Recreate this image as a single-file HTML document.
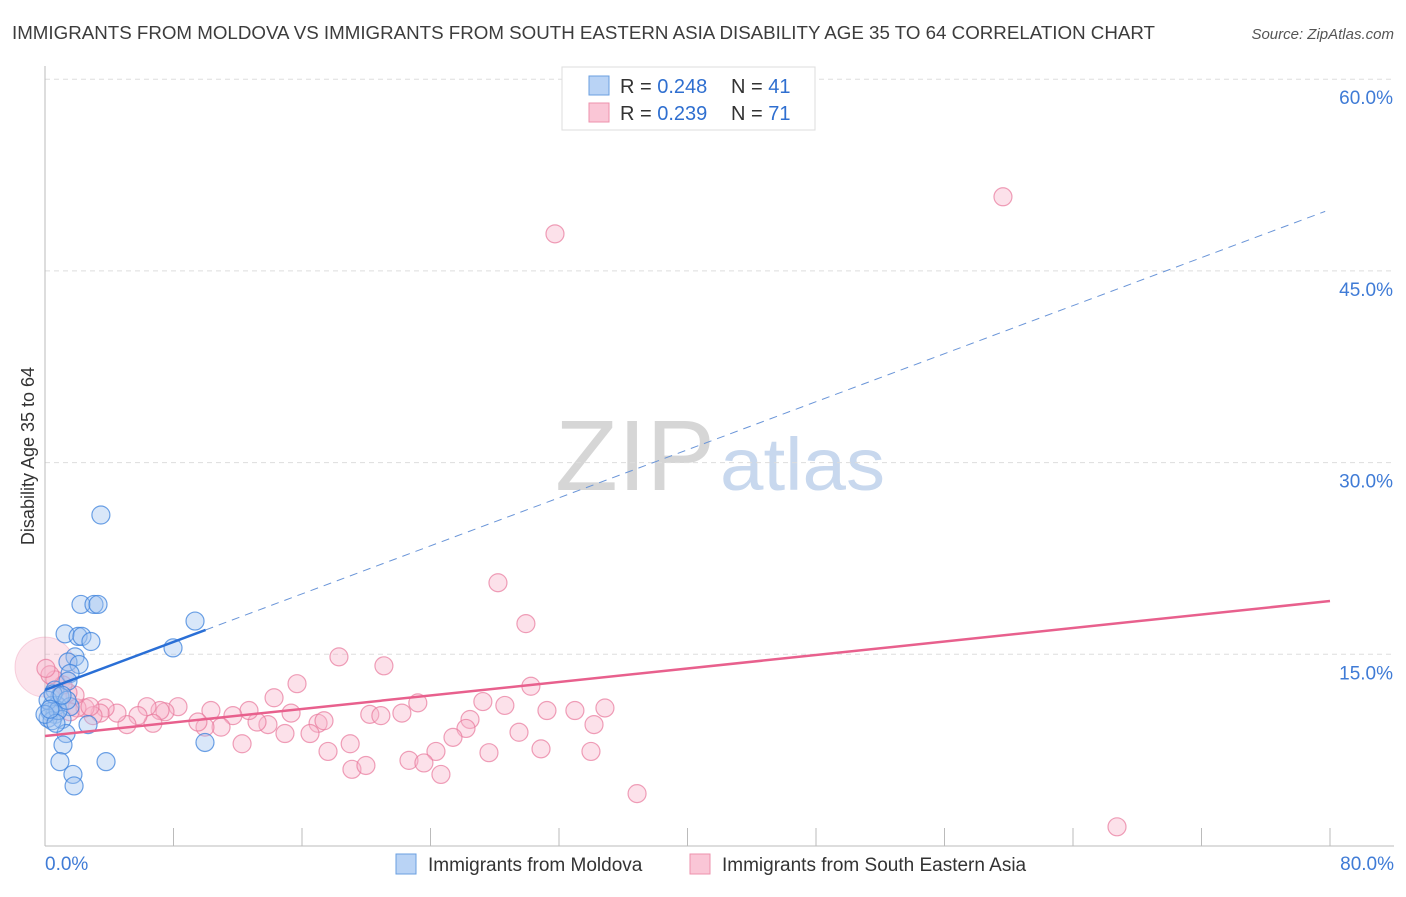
<!DOCTYPE html>
<html><head><meta charset="utf-8">
<style>
body{margin:0;background:#fff;font-family:"Liberation Sans",sans-serif;}
svg text{font-family:"Liberation Sans",sans-serif;}
</style></head>
<body>
<svg id="chart" width="1406" height="892" xmlns="http://www.w3.org/2000/svg">
<text x="12" y="39" font-size="18" fill="#3c3c3c" textLength="1143" lengthAdjust="spacingAndGlyphs">IMMIGRANTS FROM MOLDOVA VS IMMIGRANTS FROM SOUTH EASTERN ASIA DISABILITY AGE 35 TO 64 CORRELATION CHART</text>
<text x="1394" y="39" font-size="15" fill="#555" text-anchor="end" font-style="italic">Source: ZipAtlas.com</text>
<text x="555" y="490" font-size="100" fill="#d6d6d6" font-family="Liberation Serif" textLength="160" lengthAdjust="spacingAndGlyphs">ZIP</text>
<text x="720" y="490" font-size="74" fill="#c8d8ee" textLength="165" lengthAdjust="spacingAndGlyphs">atlas</text>
<g id="grid"></g>
<g id="marks"></g>
<text transform="translate(34,456) rotate(-90)" font-size="18" fill="#333" text-anchor="middle">Disability Age 35 to 64</text>
<g>
<rect x="562" y="67" width="253" height="63" fill="#fff" stroke="#ddd"/>
<rect x="589" y="76" width="20" height="19" fill="#b9d3f5" stroke="#6a9fe0"/>
<rect x="589" y="103" width="20" height="19" fill="#fac6d6" stroke="#ee92ac"/>
<text x="620" y="93" font-size="20" fill="#333">R = <tspan fill="#2f6fd0">0.248</tspan></text>
<text x="731" y="93" font-size="20" fill="#333">N = <tspan fill="#2f6fd0">41</tspan></text>
<text x="620" y="120" font-size="20" fill="#333">R = <tspan fill="#2f6fd0">0.239</tspan></text>
<text x="731" y="120" font-size="20" fill="#333">N = <tspan fill="#2f6fd0">71</tspan></text>
</g>
<g>
<rect x="396" y="854" width="20" height="20" fill="#b9d3f5" stroke="#6a9fe0"/>
<text x="428" y="871" font-size="19" fill="#333">Immigrants from Moldova</text>
<rect x="690" y="854" width="20" height="20" fill="#fac6d6" stroke="#ee92ac"/>
<text x="722" y="871" font-size="19" fill="#333">Immigrants from South Eastern Asia</text>
</g>
</svg>
<script>
const blueX=[3.48,2.24,3.05,3.3,1.25,2.06,2.3,2.86,9.34,7.97,1.87,1.43,2.12,1.56,1.43,0.62,0.93,0.44,0.75,1.56,0.31,0.62,1.06,2.68,0.19,0.44,1.31,1.12,9.96,0.93,3.8,1.74,1.81,0.19,0.81,0.5,1.37,0,0.68,1.06,0.31];
const blueY=[25.9,18.9,18.9,18.9,16.6,16.4,16.4,16.0,17.6,15.5,14.8,14.4,14.2,13.5,12.9,12.2,11.7,11.0,11.0,10.9,10.5,10.3,9.9,9.5,10.0,9.8,8.8,7.9,8.1,6.6,6.6,5.6,4.7,11.4,10.6,11.9,11.4,10.3,9.6,11.8,10.7];
const pinkX=[31.75,59.64,28.2,29.94,18.3,21.1,15.69,14.26,30.25,27.26,28.63,23.21,22.22,20.22,20.91,31.25,32.99,34.86,34.18,26.46,26.21,25.4,24.34,27.64,22.66,23.59,30.88,33.99,29.51,24.65,19.11,19.98,19.0,17.62,36.86,66.74,17.0,15.32,17.37,16.5,14.94,13.88,13.2,12.7,11.7,10.96,12.27,10.33,9.96,9.52,8.28,7.47,7.16,6.35,6.72,5.79,5.1,4.48,3.74,3.43,2.99,2.49,1.99,1.87,1.43,1.12,0.62,0.31,0.06,1.56,2.8];
const pinkY=[47.9,50.8,20.6,17.4,14.8,14.1,12.7,11.6,12.5,11.3,11.0,11.2,10.4,10.3,10.2,10.6,10.6,10.8,9.5,9.9,9.2,8.5,7.4,7.3,6.7,6.5,7.6,7.4,8.9,5.6,6.0,6.3,8.0,7.4,4.1,1.5,9.6,10.4,9.8,8.8,8.8,9.5,9.7,10.6,10.2,9.3,8.0,10.6,9.3,9.7,10.9,10.5,10.6,10.9,9.6,10.2,9.5,10.4,10.8,10.4,10.2,10.8,10.8,11.8,12.0,12.6,13.0,13.4,13.9,10.5,10.9];
const xTickLabels=["0.0%","80.0%"];
const yTicks=[15,30,45,60];
const blueTrend=[12.21,49.8];
const pinkTrend=[8.61,19.17];
const NS="http://www.w3.org/2000/svg";
const X=v=>45+v/80*1285;
const Y=v=>846-v/15*191.7;
function mk(tag,attrs,parent){const e=document.createElementNS(NS,tag);for(const k in attrs)e.setAttribute(k,attrs[k]);parent.appendChild(e);return e;}
const grid=document.getElementById('grid'),marks=document.getElementById('marks');
yTicks.forEach(t=>{
 const l=mk('line',{x1:45,x2:1394,y1:Y(t),y2:Y(t),stroke:'#ddd','stroke-dasharray':'5,4'},grid);
 
 
 const tx=mk('text',{x:1393,y:Y(t)+25,'font-size':19,fill:'#3f7bd6','text-anchor':'end'},grid);
 tx.textContent=t.toFixed(1)+'%';
 
 
});
const ax=mk('line',{x1:45,x2:45,y1:66,y2:846,stroke:'#bbb'},grid);


const xa=mk('line',{x1:45,x2:1394,y1:846,y2:846,stroke:'#bbb'},grid);


for(let i=0;i<=10;i++){const t=mk('line',{x1:X(i*8),x2:X(i*8),y1:828,y2:846,stroke:'#bbb'},grid);
 
 }
[[0,'start',45],[80,'end',1394]].forEach((d,i)=>{const t=mk('text',{x:d[2],y:870,'font-size':19,fill:'#3f7bd6','text-anchor':d[1]},grid);t.textContent=xTickLabels[i];
 
 });
const big=mk('circle',{cx:X(0),cy:Y(14),r:30,fill:'rgba(246,170,195,0.3)',stroke:'rgba(232,120,155,0.3)'},marks);


pinkX.forEach((x,i)=>{const c=mk('circle',{cx:X(x),cy:Y(pinkY[i]),r:9,fill:'rgba(248,180,202,0.4)',stroke:'rgba(232,120,155,0.7)','stroke-width':1.2},marks);
 
 });
blueX.forEach((x,i)=>{const c=mk('circle',{cx:X(x),cy:Y(blueY[i]),r:9,fill:'rgba(160,196,240,0.4)',stroke:'rgba(60,130,220,0.75)','stroke-width':1.2},marks);
 
 });
const bAt=x=>blueTrend[0]+(blueTrend[1]-blueTrend[0])*x/80;
const pl=mk('line',{x1:X(0),y1:Y(pinkTrend[0]),x2:X(80),y2:Y(pinkTrend[1]),stroke:'#e8608d','stroke-width':2.5},marks);


const bl=mk('line',{x1:X(0),y1:Y(bAt(0)),x2:X(10),y2:Y(bAt(10)),stroke:'#2a6fd6','stroke-width':2.5},marks);


const bd=mk('line',{x1:X(10),y1:Y(bAt(10)),x2:X(79.7),y2:Y(bAt(79.7)),stroke:'#6a95d8','stroke-width':1,'stroke-dasharray':'8,6'},marks);


</script>
</body></html>
